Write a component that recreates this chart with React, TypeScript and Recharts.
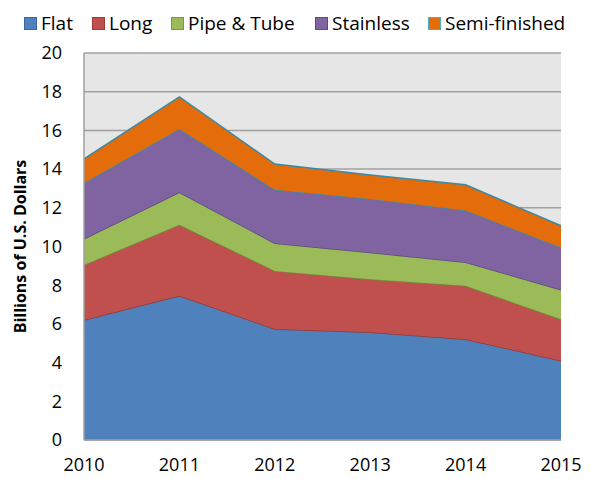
import React from 'react';
import { AreaChart, Area, XAxis, YAxis, CartesianGrid } from 'recharts';

const years = ['2010', '2011', '2012', '2013', '2014', '2015'];
const flat = [6.2, 7.45, 5.74, 5.57, 5.21, 4.1];
const long = [2.85, 3.67, 3.0, 2.74, 2.76, 2.14];
const pipeTube = [1.35, 1.68, 1.43, 1.38, 1.22, 1.52];
const stainless = [2.88, 3.27, 2.76, 2.76, 2.67, 2.19];
const semiFinished = [1.25, 1.66, 1.33, 1.25, 1.33, 1.12];
const yTicks = [0, 2, 4, 6, 8, 10, 12, 14, 16, 18, 20];

const series = [
  { key: 'Flat', values: flat, fill: '#4F81BD', stroke: '#8E3A38', border: '#3C679A', lx: 24 },
  { key: 'Long', values: long, fill: '#C0504D', stroke: '#6E8B3A', border: '#9C3A37', lx: 92 },
  { key: 'Pipe & Tube', values: pipeTube, fill: '#9BBB59', stroke: '#5E4A7E', border: '#7A9A3A', lx: 171 },
  { key: 'Stainless', values: stainless, fill: '#8064A2', stroke: '#3A8AA6', border: '#5E4A7E', lx: 315 },
  { key: 'Semi-finished', values: semiFinished, fill: '#E46C0A', stroke: '#3A8AA6', border: '#4BACC6', lx: 428 },
];

const data = years.map((year, i) => {
  const row: Record<string, string | number> = { year };
  series.forEach((s) => {
    row[s.key] = s.values[i];
  });
  return row;
});

const font = '"Open Sans", Lato, sans-serif';

function ChartLegend() {
  return (
    <div style={{ position: 'absolute', left: 0, top: 11, width: 590, height: 24, fontFamily: font, fontSize: 19, color: '#000' }}>
      {series.map((s) => (
        <div key={s.key} style={{ position: 'absolute', left: s.lx, top: 0, display: 'flex', alignItems: 'center', height: 24, whiteSpace: 'nowrap' }}>
          <span
            style={{
              display: 'inline-block',
              width: 11,
              height: 11,
              background: s.fill,
              border: `1px solid ${s.border}`,
              marginRight: 4,
            }}
          />
          {s.key}
        </div>
      ))}
    </div>
  );
}

export default function App() {
  return (
    <div style={{ position: 'absolute', left: 0, top: 0, width: 590, height: 479, background: '#fff' }}>
      <AreaChart width={590} height={479} data={data} margin={{ top: 53, right: 29, bottom: 0, left: 0 }}>
        <CartesianGrid vertical={false} stroke="#A0A0A0" strokeWidth={1.5} fill="#E6E6E6" fillOpacity={1} />
        <XAxis
          dataKey="year"
          height={39}
          axisLine={{ stroke: '#A0A0A0', strokeWidth: 1.5 }}
          tickLine={false}
          tick={{ fill: '#000', fontSize: 18, fontFamily: font }}
          tickMargin={12}
          interval={0}
        />
        <YAxis
          width={84}
          domain={[0, 20]}
          ticks={yTicks}
          axisLine={{ stroke: '#A0A0A0', strokeWidth: 1.5 }}
          tickLine={false}
          tick={{ fill: '#000', fontSize: 18, fontFamily: font }}
          tickMargin={16}
          label={{
            value: 'Billions of U.S. Dollars',
            angle: -90,
            position: 'insideLeft',
            offset: 20,
            style: { textAnchor: 'middle', fontWeight: 'bold', fontSize: 16, fontFamily: font, fill: '#000' },
          }}
        />
        <YAxis
          yAxisId="right"
          orientation="right"
          width={0}
          domain={[0, 20]}
          tick={false}
          tickLine={false}
          axisLine={{ stroke: '#A0A0A0', strokeWidth: 1.5 }}
        />
        {series.map((s) => (
          <Area
            key={s.key}
            type="linear"
            dataKey={s.key}
            stackId="1"
            fill={s.fill}
            fillOpacity={1}
            stroke={s.stroke}
            strokeWidth={1.5}
            isAnimationActive={false}
          />
        ))}
      </AreaChart>
      <ChartLegend />
    </div>
  );
}
